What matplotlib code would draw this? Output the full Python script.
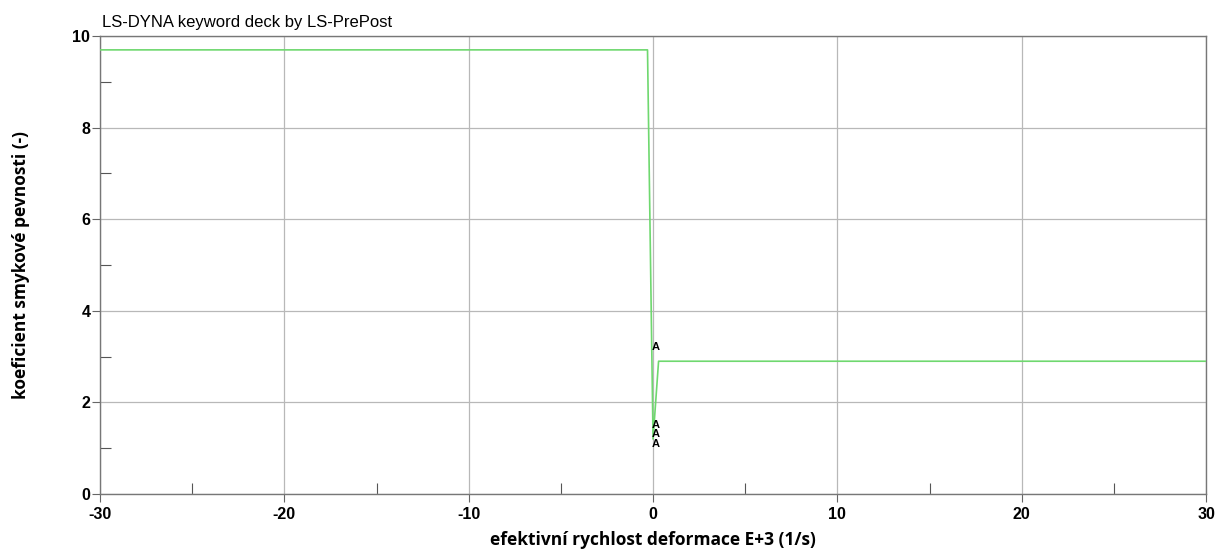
import matplotlib
matplotlib.use("Agg")
import matplotlib.pyplot as plt
from matplotlib.ticker import MultipleLocator

plt.rcParams["axes.unicode_minus"] = False

# Curve: shear strength factor vs. effective strain rate
strain_rate = [-30.0, -0.3, 0.0, 0.3, 30.0]
strength_factor = [9.7, 9.7, 1.2, 2.9, 2.9]

# Point letter labels placed by LS-PrePost
label_x = [0.0, 0.0, 0.0, 0.0]
label_y = [3.2, 1.5, 1.3, 1.1]

x_ticks = [-30, -20, -10, 0, 10, 20, 30]
y_ticks = [0, 2, 4, 6, 8, 10]

fig = plt.figure(figsize=(12.17, 5.56), dpi=100)
ax = fig.add_axes([0.0822, 0.1115, 0.9088, 0.8235])

ax.plot(strain_rate, strength_factor, color="#6fd86f", lw=1.2, zorder=3)
for xv, yv in zip(label_x, label_y):
    ax.text(xv + 0.15, yv, "A", fontsize=8, fontweight="bold",
            family="Liberation Sans", ha="center", va="center", zorder=4)

ax.set_xlim(-30, 30)
ax.set_ylim(0, 10)
ax.set_xticks(x_ticks)
ax.set_yticks(y_ticks)
ax.xaxis.set_minor_locator(MultipleLocator(5))
ax.yaxis.set_minor_locator(MultipleLocator(1))

ax.grid(True, which="major", color="#b8b8b8", lw=0.9)
ax.tick_params(which="major", direction="out", length=6, width=0.8,
               color="#666666", labelsize=11.5)
ax.tick_params(which="minor", direction="in", length=8, width=0.8,
               color="#555555")
for lbl in ax.get_xticklabels() + ax.get_yticklabels():
    lbl.set_fontweight("bold")
    lbl.set_family("Liberation Sans")
ax.tick_params(axis="x", pad=3)
ax.tick_params(axis="y", pad=1)

for s in ax.spines.values():
    s.set_color("#777777")
    s.set_linewidth(1.0)

fig.text(0.0822 + 0.002, 0.946, "LS-DYNA keyword deck by LS-PrePost",
         fontsize=12, family="Liberation Sans", va="bottom", ha="left")
fig.text(0.5365, 0.012, "efektivní rychlost deformace E+3 (1/s)",
         fontsize=12.5, fontweight="bold", family="Open Sans",
         ha="center", va="bottom")
fig.text(0.010, 0.523, "koeficient smykové pevnosti (-)",
         fontsize=12.5, fontweight="bold", family="Open Sans",
         rotation=90, ha="left", va="center")

fig.savefig("out.png", dpi=100)
